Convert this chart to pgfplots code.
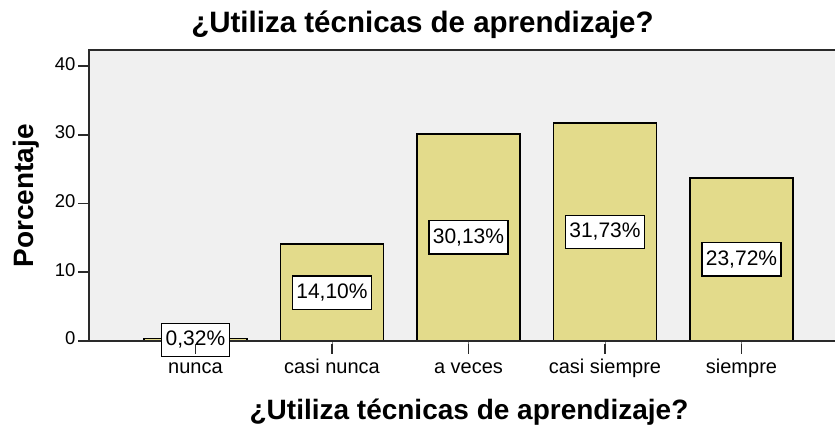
\documentclass[border=0pt]{standalone}
\usepackage{fontspec}
\setmainfont{Liberation Sans}
\usepackage{pgfplots}
\pgfplotsset{compat=1.18}
\definecolor{barfill}{HTML}{E3DB8B}
\definecolor{plotbg}{HTML}{F0F0F0}
\definecolor{axiscol}{HTML}{2A2A2A}

\begin{document}
\begin{tikzpicture}
\useasboundingbox (0,0) rectangle (835pt,425pt);
% right border of the frame falls just outside the page, as in the reference
\begin{axis}[
  at={(89pt,84pt)}, anchor=south west,
  scale only axis, width=752pt, height=291pt,
  xmin=-0.78, xmax=4.729, ymin=0, ymax=42.33,
  axis line style={draw=axiscol, line width=1.8pt},
  axis background/.style={fill=plotbg},
  axis on top,
  xtick={0,1,2,3,4},
  xticklabels={nunca, casi nunca, a veces, casi siempre, siempre},
  ytick={0,10,20,30,40},
  xtick pos=left, ytick pos=left,
  xtick align=outside, ytick align=outside,
  major tick length=10pt,
  /pgf/number format/assume math mode=true,
  ticklabel style={font=\fontsize{18.5}{20}\selectfont},
  typeset ticklabels with strut,
  xticklabel style={font=\fontsize{20}{22}\selectfont, yshift=-4pt},
  clip=false,
]
\addplot[
  ybar, bar width=0.755,
  fill=barfill, draw=black, line width=1.3pt,
  visualization depends on={y \as \rawy},
  nodes near coords={\pgfmathprintnumber[fixed, fixed zerofill, precision=2, use comma]{\pgfplotspointmeta}\%},
  every node near coord/.append style={
    anchor=center, shift={(axis direction cs:0,-\rawy/2)},
    fill=white, draw=black, line width=1.3pt,
    inner xsep=4pt, inner ysep=8pt,
    font=\fontsize{21}{23}\selectfont, text=black},
] coordinates {(0,0.32) (1,14.10) (2,30.13) (3,31.73) (4,23.72)};
% tick positions, used after the axis for heavier SPSS-style ticks
\pgfplotsinvokeforeach{0,1,2,3,4}{
  \coordinate (xt#1) at (axis cs:#1,0);
}
\pgfplotsinvokeforeach{0,10,20,30,40}{
  \coordinate (yt#1) at (axis cs:-0.78,#1);
}
\end{axis}
\foreach \i in {0,1,2,3,4}
  \draw[draw=axiscol, line width=1.8pt] ([yshift=-3pt]xt\i) -- ([yshift=-13pt]xt\i);
\foreach \j in {0,10,20,30,40}
  \draw[draw=axiscol, line width=1.8pt] (yt\j) -- ([xshift=-11pt]yt\j);
\node[anchor=base, font=\bfseries\fontsize{29.5}{32}\selectfont] at (422.5pt,392pt) {¿Utiliza técnicas de aprendizaje?};
\node[anchor=base, font=\bfseries\fontsize{28}{30}\selectfont] at (469pt,5pt) {¿Utiliza técnicas de aprendizaje?};
\node[anchor=base, rotate=90, font=\bfseries\fontsize{28}{30}\selectfont] at (33pt,229pt) {Porcentaje};
\end{tikzpicture}
\end{document}
